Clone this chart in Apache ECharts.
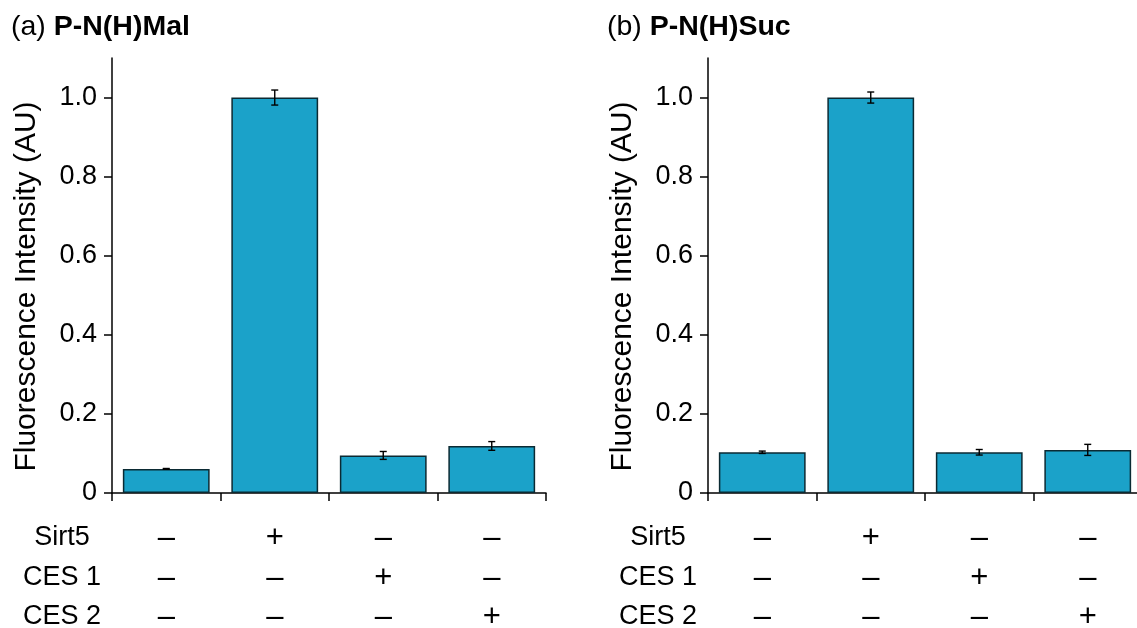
<!DOCTYPE html>
<html>
<head>
<meta charset="utf-8">
<script src="https://cdn.jsdelivr.net/npm/echarts@6/dist/echarts.min.js"></script>
<style>
  html, body { margin: 0; padding: 0; background: #fff; }
  #chart { width: 1137px; height: 628px; }
</style>
</head>
<body>
<div id="chart"></div>
<script>
// Conditions (one bar per column)
const categories = ['c1', 'c2', 'c3', 'c4'];

// Treatment table rows shown under each panel
const rowNames = ['Sirt5', 'CES 1', 'CES 2'];
const rowSirt5 = ['–', '+', '–', '–'];
const rowCES1  = ['–', '–', '+', '–'];
const rowCES2  = ['–', '–', '–', '+'];

// Panel (a) P-N(H)Mal
const malMean = [0.061, 1.000, 0.095, 0.119];
const malErr  = [0.001, 0.019, 0.010, 0.011];

// Panel (b) P-N(H)Suc
const sucMean = [0.103, 1.000, 0.103, 0.109];
const sucErr  = [0.003, 0.014, 0.007, 0.014];

const yTicks = [0, 0.2, 0.4, 0.6, 0.8, 1.0];

const FONT = '"Liberation Sans", Arial, sans-serif';
const BAR_COLOR = '#1ba2c9';
const BAR_EDGE = '#0b2a33';

const panels = [
  { left: 112, mean: malMean, err: malErr },
  { left: 708, mean: sucMean, err: sucErr }
];

const rows = [rowSirt5, rowCES1, rowCES2];
const rowOffsets = [45, 85, 124];

const grid = [], xAxis = [], yAxis = [], series = [];

panels.forEach((p, gi) => {
  grid.push({
    left: p.left, top: 58, width: 434, height: 435,
    containLabel: false, outerBoundsMode: 'none'
  });

  // main category axis: ticks between bars, no labels
  xAxis.push({
    type: 'category', gridIndex: gi, data: categories,
    axisLine: { lineStyle: { color: '#000', width: 1.5 } },
    axisTick: { show: true, length: 8, inside: false, lineStyle: { color: '#000', width: 1.5 } },
    axisLabel: { show: false }
  });

  // treatment rows drawn as extra label-only axes
  rows.forEach((row, ri) => {
    xAxis.push({
      type: 'category', gridIndex: gi, data: categories, position: 'bottom',
      offset: rowOffsets[ri],
      name: rowNames[ri], nameLocation: 'start', nameGap: 50,
      nameTextStyle: { fontFamily: FONT, fontSize: 27, color: '#000', align: 'center', verticalAlign: 'middle' },
      axisLine: { show: false }, axisTick: { show: false },
      axisLabel: {
        margin: 0, verticalAlign: 'middle', fontFamily: FONT, fontSize: 31, color: '#000',
        formatter: (v, i) => row[i]
      }
    });
  });

  yAxis.push({
    type: 'value', gridIndex: gi, min: 0, max: 1.1, interval: 0.2,
    name: 'Fluorescence Intensity (AU)', nameLocation: 'middle', nameGap: 70,
    nameTextStyle: { fontFamily: FONT, fontSize: 30, color: '#000', padding: [0, 22, 0, 0] },
    splitLine: { show: false },
    axisLine: { show: true, lineStyle: { color: '#000', width: 1.5 } },
    axisTick: { show: true, length: 8, customValues: yTicks, lineStyle: { color: '#000', width: 1.5 } },
    axisLabel: {
      customValues: yTicks, margin: 15, fontFamily: FONT, fontSize: 27, color: '#000',
      formatter: v => (v === 0 ? '0' : v.toFixed(1))
    }
  });

  const xi = gi * 4;
  series.push({
    type: 'bar', xAxisIndex: xi, yAxisIndex: gi, data: p.mean, barWidth: '80%',
    itemStyle: { color: BAR_COLOR, borderColor: BAR_EDGE, borderWidth: 1.5 },
    silent: true
  });

  series.push({
    type: 'custom', xAxisIndex: xi, yAxisIndex: gi, z: 5,
    data: p.mean.map((m, i) => [i, m - p.err[i], m + p.err[i]]),
    renderItem: (params, api) => {
      const lo = api.coord([api.value(0), api.value(1)]);
      const hi = api.coord([api.value(0), api.value(2)]);
      const hw = 3.5;
      const st = { stroke: '#000', lineWidth: 1.4, fill: null };
      return {
        type: 'group',
        children: [
          { type: 'line', shape: { x1: lo[0], y1: lo[1], x2: hi[0], y2: hi[1] }, style: st },
          { type: 'line', shape: { x1: lo[0] - hw, y1: lo[1], x2: lo[0] + hw, y2: lo[1] }, style: st },
          { type: 'line', shape: { x1: hi[0] - hw, y1: hi[1], x2: hi[0] + hw, y2: hi[1] }, style: st }
        ]
      };
    }
  });
});

const titleStyle = {
  fontFamily: FONT, fontSize: 28.5, fontWeight: 'normal', color: '#000',
  rich: { b: { fontFamily: FONT, fontSize: 28.5, fontWeight: 'bold', color: '#000' } }
};

const chart = echarts.init(document.getElementById('chart'), null, { renderer: 'canvas' });
chart.setOption({
  animation: false,
  backgroundColor: '#fff',
  title: [
    { text: '(a) {b|P-N(H)Mal}', left: 6, top: 8, textStyle: titleStyle },
    { text: '(b) {b|P-N(H)Suc}', left: 602, top: 8, textStyle: titleStyle }
  ],
  grid, xAxis, yAxis, series
});
</script>
</body>
</html>
